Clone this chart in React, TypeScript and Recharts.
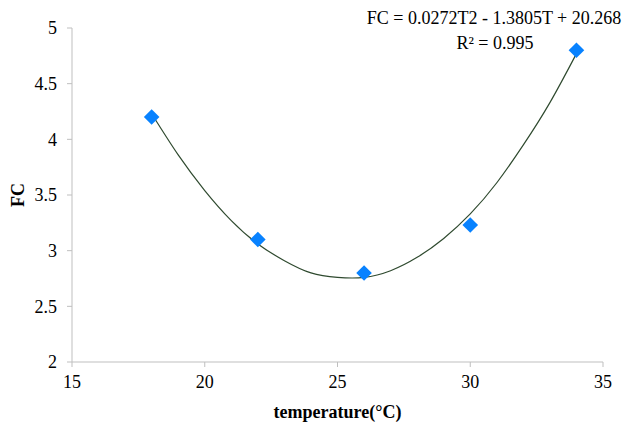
import React from 'react';
import { ComposedChart, Scatter, Line, XAxis, YAxis, Label } from 'recharts';

const temperatures = [18, 22, 26, 30, 34];
const fcValues = [4.2, 3.1, 2.8, 3.23, 4.8];

const trendT = [18, 19, 20, 21, 22, 23, 24, 25, 26, 27, 28, 29, 30, 31, 32, 33, 34];
const trendFC = [4.23, 3.86, 3.54, 3.27, 3.06, 2.91, 2.80, 2.76, 2.76, 2.82, 2.94, 3.11, 3.33, 3.61, 3.95, 4.33, 4.77];

const xTicks = [15, 20, 25, 30, 35];
const yTicks = [2, 2.5, 3, 3.5, 4, 4.5, 5];

const equationText = 'FC = 0.0272T2 - 1.3805T + 20.268';
const r2Text = 'R² = 0.995';

const points = temperatures.map((t, i) => ({ t, fc: fcValues[i] }));
const trend = trendT.map((t, i) => ({ t, trend: trendFC[i] }));

const FONT = 'Liberation Serif, serif';
const AXIS = '#bfbfbf';

const Diamond = (props: any) => {
  const { cx, cy } = props;
  const r = 7.8;
  return (
    <path
      d={`M${cx},${cy - r} L${cx + r},${cy} L${cx},${cy + r} L${cx - r},${cy} Z`}
      fill="#0882ff"
    />
  );
};

const tickStyle = { fill: '#000', fontSize: 18, fontFamily: FONT, style: { fontFamily: FONT } } as any;

export default function App() {
  return (
    <div style={{ position: 'absolute', left: 0, top: 0, width: 624, height: 428, background: '#fff', fontFamily: FONT }}>
      <ComposedChart
        width={624}
        height={428}
        margin={{ top: 28, right: 21, left: 0, bottom: 0 }}
        style={{ fontFamily: FONT }}
      >
        <XAxis
          type="number"
          dataKey="t"
          domain={[15, 35]}
          ticks={xTicks}
          allowDataOverflow
          height={66}
          stroke={AXIS}
          tickSize={5}
          tickMargin={8}
          tick={tickStyle}
        >
          <Label
            value="temperature(°C)"
            position="insideBottom"
            offset={10}
            style={{ fill: '#000', fontSize: 18, fontWeight: 'bold', fontFamily: FONT }}
          />
        </XAxis>
        <YAxis
          type="number"
          domain={[2, 5]}
          ticks={yTicks}
          allowDataOverflow
          width={72}
          stroke={AXIS}
          tickSize={5}
          tickMargin={10}
          tick={tickStyle}
        >
          <Label
            value="FC"
            angle={-90}
            position="insideLeft"
            offset={18}
            style={{ fill: '#000', fontSize: 18, fontWeight: 'bold', fontFamily: FONT, textAnchor: 'middle' }}
          />
        </YAxis>
        <Scatter data={points} dataKey="fc" shape={<Diamond />} isAnimationActive={false} />
        <Line
          data={trend}
          dataKey="trend"
          type="natural"
          stroke="#2f4a2f"
          strokeWidth={1.2}
          dot={false}
          activeDot={false}
          isAnimationActive={false}
        />
      </ComposedChart>
      <svg
        width={624}
        height={428}
        style={{ position: 'absolute', left: 0, top: 0, pointerEvents: 'none', fontFamily: FONT }}
      >
        <text x={494} y={18} textAnchor="middle" dominantBaseline="central" style={{ fontFamily: FONT, fontSize: 18 }} fill="#000">
          {equationText}
        </text>
        <text x={495} y={43} textAnchor="middle" dominantBaseline="central" style={{ fontFamily: FONT, fontSize: 18 }} fill="#000">
          {r2Text}
        </text>
      </svg>
    </div>
  );
}
